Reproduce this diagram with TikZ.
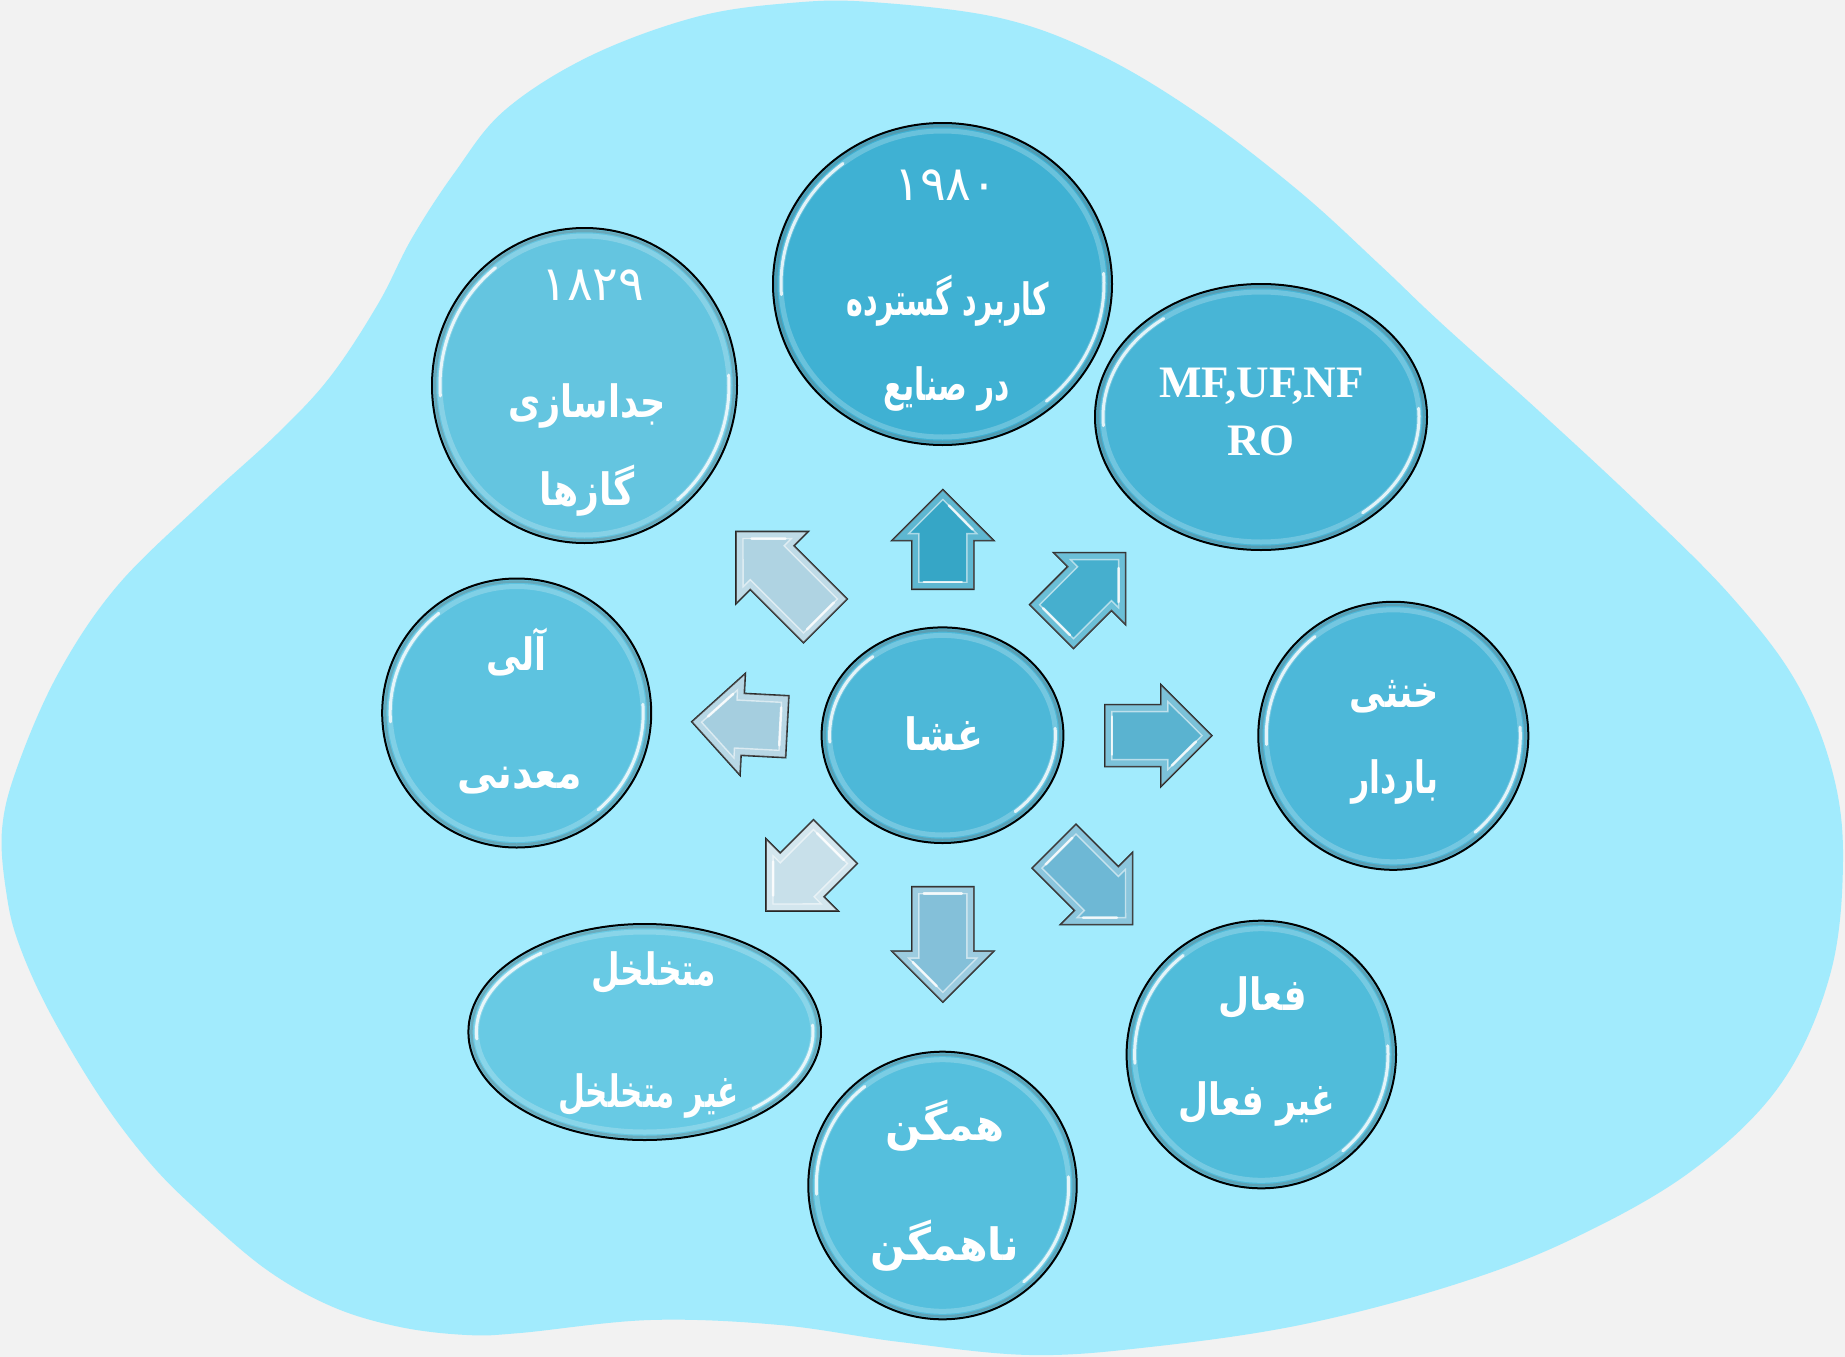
\documentclass[tikz,border=0pt]{standalone}
\usepackage{fontspec}
\usepackage{graphicx}
\usetikzlibrary{shapes.geometric}
\TeXXeTstate=1
\newfontfamily\fa[Script=Arabic]{DejaVu Sans}
\newfontfamily\tnr{Liberation Serif}

\definecolor{pagebg}{HTML}{F2F2F2}
\definecolor{blobcol}{HTML}{A2EBFD}
\definecolor{cA}{HTML}{64C5E0}
\definecolor{cB}{HTML}{3FB1D3}
\definecolor{cC}{HTML}{48B5D6}
\definecolor{cD}{HTML}{5DC3E0}
\definecolor{cE}{HTML}{4DB8D9}
\definecolor{cF}{HTML}{68CAE4}
\definecolor{cG}{HTML}{55BFDD}
\definecolor{cH}{HTML}{50BCDA}
\definecolor{cM}{HTML}{4DB8D8}
\definecolor{aUp}{HTML}{36A6C6}
\definecolor{aUR}{HTML}{46AFCE}
\definecolor{aR}{HTML}{5AB3D0}
\definecolor{aDR}{HTML}{6EB8D5}
\definecolor{aD}{HTML}{84C0D9}
\definecolor{aDL}{HTML}{C8E0EA}
\definecolor{aL}{HTML}{A5CEDF}
\definecolor{aUL}{HTML}{AFD3E2}

\tikzset{
  bubble/.style={ellipse, draw=black, line width=2pt, inner sep=0pt},
  rimshade/.style={draw=black!55, line width=2.5pt, opacity=0.35},
  rimglow/.style={draw=white, line width=5pt, opacity=0.22},
  gloss/.style={draw=white, line width=3pt, opacity=0.8, line cap=round},
  arrowbody/.style={draw=black!85, line width=1.6pt, line join=miter},
  bevelband/.style={fill=white, opacity=0.2, even odd rule},
  bevelline/.style={draw=white, line width=1.4pt, opacity=0.55},
  fatext/.style={text=white, font=\fa\bfseries\fontsize{33}{38}\selectfont, anchor=base, inner sep=0pt},
  digtext/.style={text=white, font=\fa\fontsize{48}{54}\selectfont, anchor=base, inner sep=0pt},
  entext/.style={text=white, font=\tnr\bfseries\fontsize{45}{50}\selectfont, anchor=base, inner sep=0pt}
}

% right-to-left label, set a little taller; optional horizontal factor
\newcommand\rtl[2][1]{\scalebox{#1}[1.35]{\beginR #2\endR}}

% glossy ellipse: name, cx, cy, rx, ry, fill colour
\newcommand\bubble[6]{%
  \node[bubble, fill=#6, minimum width=2*#4, minimum height=2*#5] (#1) at (#2,#3) {};
  \begin{scope}[shift={(#2,#3)}]
    \pgfmathsetmacro\rxa{#4-3}\pgfmathsetmacro\rya{#5-3}
    \pgfmathsetmacro\rxb{#4-8}\pgfmathsetmacro\ryb{#5-8}
    \draw[rimshade] (0,0) ellipse [x radius=\rxa, y radius=\rya];
    \draw[rimglow] (0,0) ellipse [x radius=\rxb, y radius=\ryb];
    \draw[gloss] (176:{\rxb} and {\ryb}) arc[start angle=176, end angle=232, x radius=\rxb, y radius=\ryb];
    \draw[gloss] (-4:{\rxb} and {\ryb}) arc[start angle=-4, end angle=50, x radius=\rxb, y radius=\ryb];
  \end{scope}}

% bevelled block arrow: cx, cy, direction, length, fill colour
\newcommand\blockarrow[5]{%
  \begin{scope}[shift={(#1,#2)}, rotate=#3]
    \pgfmathsetmacro\hl{#4/2}\pgfmathsetmacro\hb{#4/2-51}
    \pgfmathsetmacro\il{-#4/2+7}\pgfmathsetmacro\ib{#4/2-44}\pgfmathsetmacro\it{#4/2-9.9}
    \filldraw[arrowbody, fill=#5] (-\hl,-31) -- (\hb,-31) -- (\hb,-51) -- (\hl,0) -- (\hb,51) -- (\hb,31) -- (-\hl,31) -- cycle;
    \fill[bevelband] (-\hl,-31) -- (\hb,-31) -- (\hb,-51) -- (\hl,0) -- (\hb,51) -- (\hb,31) -- (-\hl,31) -- cycle
      (\il,-24) -- (\ib,-24) -- (\ib,-34) -- (\it,0) -- (\ib,34) -- (\ib,24) -- (\il,24) -- cycle;
    \draw[bevelline] (\il,-24) -- (\ib,-24) -- (\ib,-34) -- (\it,0) -- (\ib,34) -- (\ib,24) -- (\il,24) -- cycle;
    \draw[gloss, line width=2.5pt] (\il,-19) -- (\il,19);
    \draw[gloss, line width=2.5pt] (\ib+4,30) -- (\it-6,6);
  \end{scope}}

\begin{document}
\begin{tikzpicture}[x=1pt, y=-1pt]
  \useasboundingbox (0,0) rectangle (1845,1357);
  \fill[pagebg] (0,0) rectangle (1845,1357);

  % backdrop blob
  \fill[blobcol] plot[smooth cycle, tension=0.6] coordinates {
    (871,2) (1000,18) (1100,55) (1200,115) (1300,192) (1380,265) (1440,322)
    (1540,412) (1640,505) (1730,595) (1795,680) (1832,770) (1843,860)
    (1830,975) (1780,1085) (1690,1172) (1570,1240) (1450,1286) (1300,1325)
    (1150,1347) (1030,1355) (900,1342) (780,1325) (650,1320) (520,1333)
    (467,1335) (400,1327) (333,1307) (267,1270) (200,1213) (150,1163)
    (100,1097) (50,1013) (20,947) (7,897) (2,830)
    (18,765) (59,672) (118,585) (206,499) (277,434) (330,377) (378,304)
    (412,238) (455,172) (505,110) (590,56) (696,17) (790,3)};

  % arrows around the centre
  \blockarrow{942.8}{539.4}{90}{99.6}{aUp}
  \blockarrow{1088.6}{589.6}{45}{104.7}{aUR}
  \blockarrow{1158.3}{735.6}{0}{107}{aR}
  \blockarrow{1093.3}{885.4}{-45}{111}{aDR}
  \blockarrow{942.8}{944.4}{-90}{115.4}{aD}
  \blockarrow{800.7}{876.3}{-135}{98.1}{aDL}
  \blockarrow{739.5}{724.2}{177}{95.6}{aL}
  \blockarrow{780.7}{576.2}{135}{126.4}{aUL}

  % bubbles
  \bubble{gas}{584.5}{385.5}{152.5}{157.5}{cA}
  \bubble{ind}{942.5}{284}{169.5}{161}{cB}
  \bubble{proc}{1261}{417}{166}{133}{cC}
  \bubble{mat}{516.7}{713}{134.5}{134.5}{cD}
  \bubble{chg}{1393.3}{735.8}{135}{134}{cE}
  \bubble{por}{644.7}{1032}{176.3}{108}{cF}
  \bubble{hom}{942.5}{1185.5}{134.2}{133.8}{cG}
  \bubble{act}{1261.3}{1054.5}{134.7}{133.8}{cH}
  \bubble{mem}{942.5}{735.2}{120.9}{107.8}{cM}

  % labels
  \node[fatext] (memT) at (944,750) {\rtl[1.15]{غشا}};

  \node[digtext] (gasY) at (593,300) {۱۸۲۹};
  \node[fatext] (gasA) at (587,417) {\rtl[1.06]{جداسازی}};
  \node[fatext] (gasB) at (587,505) {\rtl[1.1]{گازها}};

  \node[digtext] (indY) at (946,200) {۱۹۸۰};
  \node[fatext] (indA) at (947.5,315) {\rtl[0.86]{کاربرد گسترده}};
  \node[fatext] (indB) at (946.5,400) {\rtl[0.9]{در صنایع}};

  \node[entext] (procA) at (1261.5,397) {MF,UF,NF};
  \node[entext] (procB) at (1261,455) {RO};

  \node[fatext] (matA) at (516.5,670) {\rtl[1.06]{آلی}};
  \node[fatext] (matB) at (519.5,788) {\rtl[1.2]{معدنی}};

  \node[fatext] (chgA) at (1394.5,707) {\rtl[1.06]{خنثی}};
  \node[fatext] (chgB) at (1395,793) {\rtl[0.96]{باردار}};

  \node[fatext] (porA) at (653.5,985) {\rtl{متخلخل}};
  \node[fatext] (porB) at (648.5,1107) {\rtl[0.94]{غیر متخلخل}};

  \node[fatext] (homA) at (945,1140) {\rtl[1.27]{همگن}};
  \node[fatext] (homB) at (944.5,1260) {\rtl[1.25]{ناهمگن}};

  \node[fatext] (actA) at (1262.5,1010) {\rtl[1.09]{فعال}};
  \node[fatext] (actB) at (1257,1115) {\rtl[1.05]{غیر فعال}};
\end{tikzpicture}
\end{document}
